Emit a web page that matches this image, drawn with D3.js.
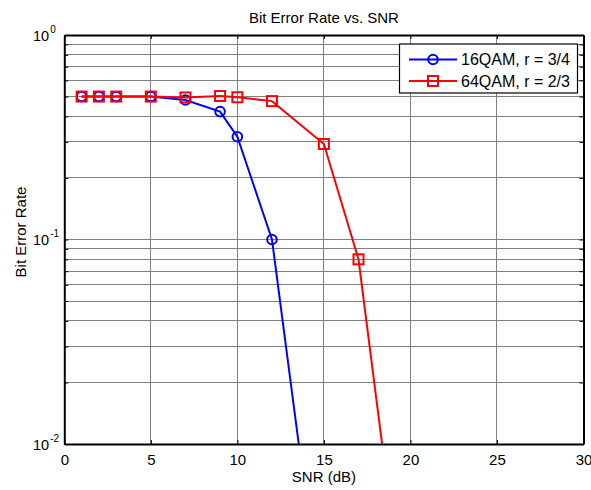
<!DOCTYPE html>
<html><head><meta charset="utf-8">
<script src="https://cdn.jsdelivr.net/npm/d3@7"></script>
<style>body{margin:0;background:#fff}svg{display:block}text{font-family:"Liberation Sans",Arial,sans-serif}</style>
</head><body><svg id="c" width="591" height="490"></svg>
<script>
const snr16 = [1, 2, 3, 5, 7, 9, 10, 12, 15];
const ber16 = [0.5, 0.5, 0.5, 0.5, 0.481, 0.422, 0.318, 0.1, 0.00115];
const snr64 = [1, 2, 3, 5, 7, 9, 10, 12, 15, 17, 20];
const ber64 = [0.5, 0.5, 0.5, 0.5, 0.495, 0.503, 0.496, 0.475, 0.293, 0.080, 0.00082];
const xTicks = [0, 5, 10, 15, 20, 25, 30];
const yDecades = [-2, -1, 0];
const seriesNames = ["16QAM, r = 3/4", "64QAM, r = 2/3"];

const W = 591, H = 490;
const m = {l: 64.3, r: 583.5, t: 35, b: 444};
const svg = d3.select("#c");
const x = d3.scaleLinear().domain([0, 30]).range([m.l, m.r]);
const y = d3.scaleLog().domain([0.01, 1]).range([m.b, m.t]);

svg.append("rect").attr("x", m.l).attr("y", m.t).attr("width", m.r - m.l).attr("height", m.b - m.t).attr("fill", "#fff");

// grid
const minorVals = [];
for (let d = -2; d < 0; d++) for (let k = 1; k <= 9; k++) minorVals.push(k * Math.pow(10, d));
minorVals.push(1);
const g = svg.append("g");
g.selectAll("line.hy").data(minorVals).join("line")
  .attr("x1", m.l).attr("x2", m.r).attr("y1", d => y(d)).attr("y2", d => y(d))
  .attr("stroke", "#808080").attr("stroke-width", 1).attr("shape-rendering", "crispEdges");
g.selectAll("line.vx").data(xTicks).join("line")
  .attr("y1", m.t).attr("y2", m.b).attr("x1", d => x(d)).attr("x2", d => x(d))
  .attr("stroke", "#808080").attr("stroke-width", 1).attr("shape-rendering", "crispEdges");

// axes with inner ticks
const axB = d3.axisBottom(x).tickValues(xTicks).tickSizeInner(-4).tickSizeOuter(0).tickPadding(10);
const axT = d3.axisTop(x).tickValues(xTicks).tickSizeInner(-4).tickSizeOuter(0).tickFormat("");
const axL = d3.axisLeft(y).tickValues(minorVals).tickSizeInner(-4).tickSizeOuter(0).tickFormat("");
const axR = d3.axisRight(y).tickValues(minorVals).tickSizeInner(-4).tickSizeOuter(0).tickFormat("");
const gb = svg.append("g").attr("transform", `translate(0,${m.b})`).call(axB);
svg.append("g").attr("transform", `translate(0,${m.t})`).call(axT);
svg.append("g").attr("transform", `translate(${m.l},0)`).call(axL);
svg.append("g").attr("transform", `translate(${m.r},0)`).call(axR);
svg.selectAll(".domain").attr("stroke", "#000").attr("stroke-width", 2);
svg.selectAll(".tick line").attr("stroke", "#000").attr("stroke-width", 1);
gb.selectAll("text").attr("font-size", 15).attr("fill", "#000").attr("font-family", '"Liberation Sans",Arial,sans-serif');

// y labels 10^k
const yl = svg.append("g");
yDecades.forEach(k => {
  const t = yl.append("text").attr("x", 33).attr("y", y(Math.pow(10, k)) + 5.5)
    .attr("text-anchor", "start").attr("font-size", 14.5).attr("fill", "#000");
  t.append("tspan").text("10");
  t.append("tspan").attr("dy", -8).attr("dx", 1).attr("font-size", 10).text(String(k));
});

// data lines
svg.append("clipPath").attr("id", "pc").append("rect")
  .attr("x", m.l).attr("y", m.t).attr("width", m.r - m.l).attr("height", m.b - m.t);
const plot = svg.append("g").attr("clip-path", "url(#pc)");
const line = d3.line().x(d => x(d[0])).y(d => y(d[1]));
const d16 = snr16.map((s, i) => [s, ber16[i]]);
const d64 = snr64.map((s, i) => [s, ber64[i]]);
plot.append("path").datum(d16).attr("d", line).attr("fill", "none").attr("stroke", "#0000ff").attr("stroke-width", 2);
plot.selectAll("circle.m").data(d16).join("circle")
  .attr("cx", d => x(d[0])).attr("cy", d => y(d[1])).attr("r", 4.8)
  .attr("fill", "none").attr("stroke", "#0000ff").attr("stroke-width", 2);
plot.append("path").datum(d64).attr("d", line).attr("fill", "none").attr("stroke", "#ff0000").attr("stroke-width", 2);
plot.selectAll("rect.m").data(d64).join("rect")
  .attr("x", d => x(d[0]) - 5).attr("y", d => y(d[1]) - 5).attr("width", 10).attr("height", 10)
  .attr("fill", "none").attr("stroke", "#ff0000").attr("stroke-width", 2);

// legend
const lg = svg.append("g");
lg.append("rect").attr("x", 399.5).attr("y", 44).attr("width", 178).attr("height", 49)
  .attr("fill", "#fff").attr("stroke", "#000").attr("stroke-width", 1.2);
const rows = [{c: "#0000ff", y: 59.5, t: "c"}, {c: "#ff0000", y: 81, t: "s"}];
rows.forEach((r, i) => {
  lg.append("line").attr("x1", 409).attr("x2", 457).attr("y1", r.y).attr("y2", r.y).attr("stroke", r.c).attr("stroke-width", 2);
  if (r.t === "c") lg.append("circle").attr("cx", 433).attr("cy", r.y).attr("r", 4.8).attr("fill", "none").attr("stroke", r.c).attr("stroke-width", 2);
  else lg.append("rect").attr("x", 428).attr("y", r.y - 5).attr("width", 10).attr("height", 10).attr("fill", "none").attr("stroke", r.c).attr("stroke-width", 2);
  lg.append("text").attr("x", 461).attr("y", r.y + 5.5).attr("font-size", 16).attr("fill", "#000").text(seriesNames[i]);
});

// titles
svg.append("text").attr("x", (m.l + m.r) / 2).attr("y", 23).attr("text-anchor", "middle").attr("font-size", 15).text("Bit Error Rate vs. SNR");
svg.append("text").attr("x", (m.l + m.r) / 2).attr("y", 482).attr("text-anchor", "middle").attr("font-size", 15).text("SNR (dB)");
svg.append("text").attr("transform", `translate(26,232) rotate(-90)`).attr("text-anchor", "middle").attr("font-size", 15).text("Bit Error Rate");
</script></body></html>
